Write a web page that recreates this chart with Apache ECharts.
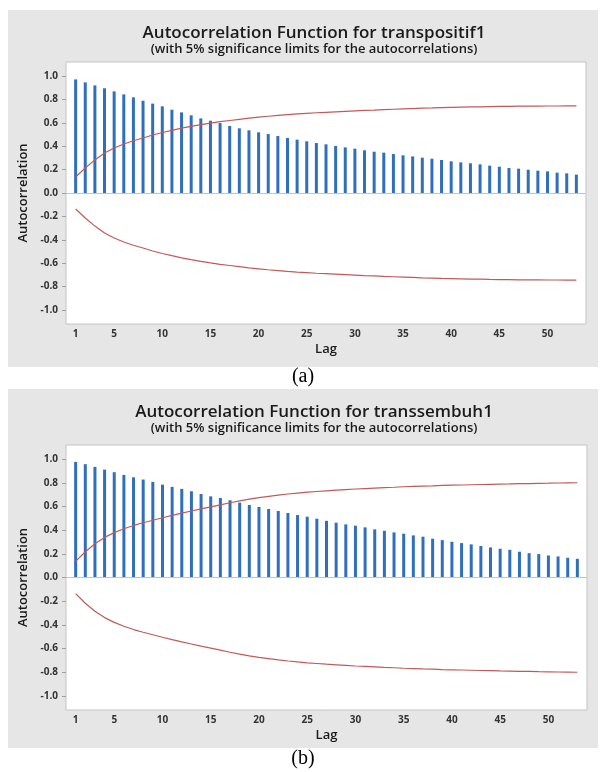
<!DOCTYPE html>
<html>
<head>
<meta charset="utf-8">
<script src="https://cdn.jsdelivr.net/npm/echarts@6/dist/echarts.min.js"></script>
<style>
  html, body { margin: 0; padding: 0; background: #fff; }
  #chart { width: 606px; height: 772px; }
</style>
</head>
<body>
<div id="chart"></div>
<script>
// Lags shown on both ACF plots
const lags = [1, 2, 3, 4, 5, 6, 7, 8, 9, 10, 11, 12, 13, 14, 15, 16, 17, 18, 19, 20,
  21, 22, 23, 24, 25, 26, 27, 28, 29, 30, 31, 32, 33, 34, 35, 36, 37, 38, 39, 40,
  41, 42, 43, 44, 45, 46, 47, 48, 49, 50, 51, 52, 53];

const lagTicks = [1, 5, 10, 15, 20, 25, 30, 35, 40, 45, 50];
const acfTicks = [-1.0, -0.8, -0.6, -0.4, -0.2, 0.0, 0.2, 0.4, 0.6, 0.8, 1.0];

// (a) transpositif1
const acfA = [0.971, 0.946, 0.920, 0.895, 0.869, 0.843, 0.818, 0.789, 0.764, 0.741,
  0.712, 0.689, 0.664, 0.638, 0.618, 0.598, 0.573, 0.553, 0.536, 0.519,
  0.504, 0.487, 0.470, 0.456, 0.442, 0.427, 0.416, 0.402, 0.390, 0.379,
  0.365, 0.353, 0.345, 0.333, 0.322, 0.313, 0.302, 0.293, 0.282, 0.271,
  0.262, 0.254, 0.245, 0.234, 0.225, 0.214, 0.208, 0.199, 0.191, 0.185,
  0.174, 0.168, 0.157];
const upperA = [0.137, 0.214, 0.283, 0.342, 0.385, 0.419, 0.447, 0.470, 0.496, 0.517,
  0.536, 0.554, 0.570, 0.584, 0.598, 0.610, 0.620, 0.630, 0.640, 0.648,
  0.656, 0.663, 0.670, 0.676, 0.681, 0.686, 0.690, 0.694, 0.698, 0.702,
  0.706, 0.709, 0.713, 0.716, 0.719, 0.722, 0.725, 0.727, 0.730, 0.732,
  0.734, 0.736, 0.737, 0.739, 0.740, 0.741, 0.742, 0.743, 0.743, 0.744,
  0.744, 0.745, 0.745];
const lowerA = [-0.137, -0.214, -0.283, -0.342, -0.385, -0.419, -0.447, -0.470, -0.496, -0.517,
  -0.536, -0.554, -0.570, -0.584, -0.598, -0.610, -0.620, -0.630, -0.640, -0.648,
  -0.656, -0.663, -0.670, -0.676, -0.681, -0.686, -0.690, -0.694, -0.698, -0.702,
  -0.706, -0.709, -0.713, -0.716, -0.719, -0.722, -0.725, -0.727, -0.730, -0.732,
  -0.734, -0.736, -0.737, -0.739, -0.740, -0.741, -0.742, -0.743, -0.743, -0.744,
  -0.744, -0.745, -0.745];

// (b) transsembuh1
const acfB = [0.977, 0.958, 0.935, 0.912, 0.890, 0.867, 0.847, 0.828, 0.808, 0.785,
  0.766, 0.749, 0.729, 0.706, 0.686, 0.672, 0.653, 0.633, 0.613, 0.596,
  0.579, 0.562, 0.545, 0.528, 0.514, 0.497, 0.479, 0.463, 0.449, 0.438,
  0.424, 0.407, 0.395, 0.381, 0.370, 0.356, 0.345, 0.328, 0.316, 0.302,
  0.291, 0.280, 0.266, 0.254, 0.243, 0.234, 0.218, 0.206, 0.198, 0.186,
  0.178, 0.167, 0.158];
const upperB = [0.136, 0.218, 0.285, 0.339, 0.379, 0.412, 0.440, 0.463, 0.484, 0.505,
  0.525, 0.544, 0.562, 0.580, 0.597, 0.614, 0.632, 0.648, 0.662, 0.675,
  0.686, 0.697, 0.706, 0.714, 0.721, 0.727, 0.733, 0.738, 0.743, 0.748,
  0.752, 0.756, 0.760, 0.763, 0.767, 0.770, 0.773, 0.775, 0.778, 0.780,
  0.782, 0.784, 0.786, 0.788, 0.790, 0.791, 0.793, 0.794, 0.796, 0.797,
  0.799, 0.800, 0.801];
const lowerB = [-0.136, -0.218, -0.285, -0.339, -0.379, -0.412, -0.440, -0.463, -0.484, -0.505,
  -0.525, -0.544, -0.562, -0.580, -0.597, -0.614, -0.632, -0.648, -0.662, -0.675,
  -0.686, -0.697, -0.706, -0.714, -0.721, -0.727, -0.733, -0.738, -0.743, -0.748,
  -0.752, -0.756, -0.760, -0.763, -0.767, -0.770, -0.773, -0.775, -0.778, -0.780,
  -0.782, -0.784, -0.786, -0.788, -0.790, -0.791, -0.793, -0.794, -0.796, -0.797,
  -0.799, -0.800, -0.801];

const FONT = "'Open Sans', 'Noto Sans', sans-serif";
const BAR_COLOR = "#2f6fbe";
const LIMIT_COLOR = "#c05a5a";
const PANEL_BG = "#e6e6e6";

const pair = (vals) => lags.map((lag, i) => [lag, vals[i]]);

function makeTitle(name, top) {
  return {
    text: "Autocorrelation Function for " + name,
    subtext: "(with 5% significance limits for the autocorrelations)",
    left: 309,
    textAlign: "center",
    top: top,
    itemGap: 1,
    textStyle: { fontFamily: FONT, fontSize: 17, fontWeight: 600, color: "#1a1a1a" },
    subtextStyle: { fontFamily: FONT, fontSize: 13, fontWeight: 600, color: "#1a1a1a" },
  };
}

function makeXAxis(gridIndex) {
  return {
    gridIndex,
    type: "value",
    min: 0,
    max: 54,
    name: "Lag",
    nameLocation: "middle",
    nameGap: 19,
    nameTextStyle: { fontFamily: FONT, fontSize: 13, fontWeight: 600, color: "#1a1a1a" },
    axisLine: { show: false },
    axisTick: { show: false },
    splitLine: { show: false },
    axisLabel: {
      customValues: lagTicks,
      margin: 5,
      fontFamily: FONT,
      fontSize: 10,
      fontWeight: 700,
      color: "#333",
    },
  };
}

function makeYAxis(gridIndex) {
  return {
    gridIndex,
    type: "value",
    min: -1.12,
    max: 1.12,
    name: "Autocorrelation",
    nameLocation: "middle",
    nameGap: 34,
    nameTextStyle: { fontFamily: FONT, fontSize: 13, fontWeight: 600, color: "#1a1a1a" },
    axisLine: { show: false },
    axisTick: {
      show: true,
      customValues: acfTicks,
      length: 4,
      lineStyle: { color: "#a0a0a0" },
    },
    splitLine: { show: false },
    axisLabel: {
      customValues: acfTicks,
      margin: 8,
      fontFamily: FONT,
      fontSize: 10,
      fontWeight: 700,
      color: "#333",
      formatter: (v) => v.toFixed(1),
    },
  };
}

function makeSeries(idx, acf, upper, lower) {
  return [
    {
      type: "bar",
      xAxisIndex: idx,
      yAxisIndex: idx,
      data: pair(acf),
      barWidth: 3,
      itemStyle: { color: BAR_COLOR },
      silent: true,
      markLine: {
        silent: true,
        symbol: "none",
        label: { show: false },
        lineStyle: { color: "#c4c4c4", width: 1, type: "solid" },
        data: [{ yAxis: 0 }],
      },
    },
    {
      type: "line",
      xAxisIndex: idx,
      yAxisIndex: idx,
      data: pair(upper),
      showSymbol: false,
      lineStyle: { color: LIMIT_COLOR, width: 1.2 },
      silent: true,
    },
    {
      type: "line",
      xAxisIndex: idx,
      yAxisIndex: idx,
      data: pair(lower),
      showSymbol: false,
      lineStyle: { color: LIMIT_COLOR, width: 1.2 },
      silent: true,
    },
  ];
}

const chart = echarts.init(document.getElementById("chart"), null, { renderer: "canvas" });

const option = {
  animation: false,
  backgroundColor: "#fff",
  graphic: [
    { type: "rect", z: -10, shape: { x: 8, y: 10, width: 590, height: 357 }, style: { fill: PANEL_BG } },
    { type: "rect", z: -10, shape: { x: 8, y: 389, width: 590, height: 359 }, style: { fill: PANEL_BG } },
    {
      type: "text", left: "center", top: 367,
      style: { text: "(a)", font: "20px 'Liberation Serif', 'Times New Roman', serif", fill: "#000" },
    },
    {
      type: "text", left: "center", top: 749,
      style: { text: "(b)", font: "20px 'Liberation Serif', 'Times New Roman', serif", fill: "#000" },
    },
  ],
  title: [makeTitle("transpositif1", 20), makeTitle("transsembuh1", 399)],
  grid: [
    { left: 66, top: 62, width: 520, height: 262, show: true, backgroundColor: "#fff", borderColor: "#c4c4c4", borderWidth: 1 },
    { left: 66, top: 445, width: 521, height: 265, show: true, backgroundColor: "#fff", borderColor: "#c4c4c4", borderWidth: 1 },
  ],
  xAxis: [makeXAxis(0), makeXAxis(1)],
  yAxis: [makeYAxis(0), makeYAxis(1)],
  series: [...makeSeries(0, acfA, upperA, lowerA), ...makeSeries(1, acfB, upperB, lowerB)],
};

chart.setOption(option);
</script>
</body>
</html>
